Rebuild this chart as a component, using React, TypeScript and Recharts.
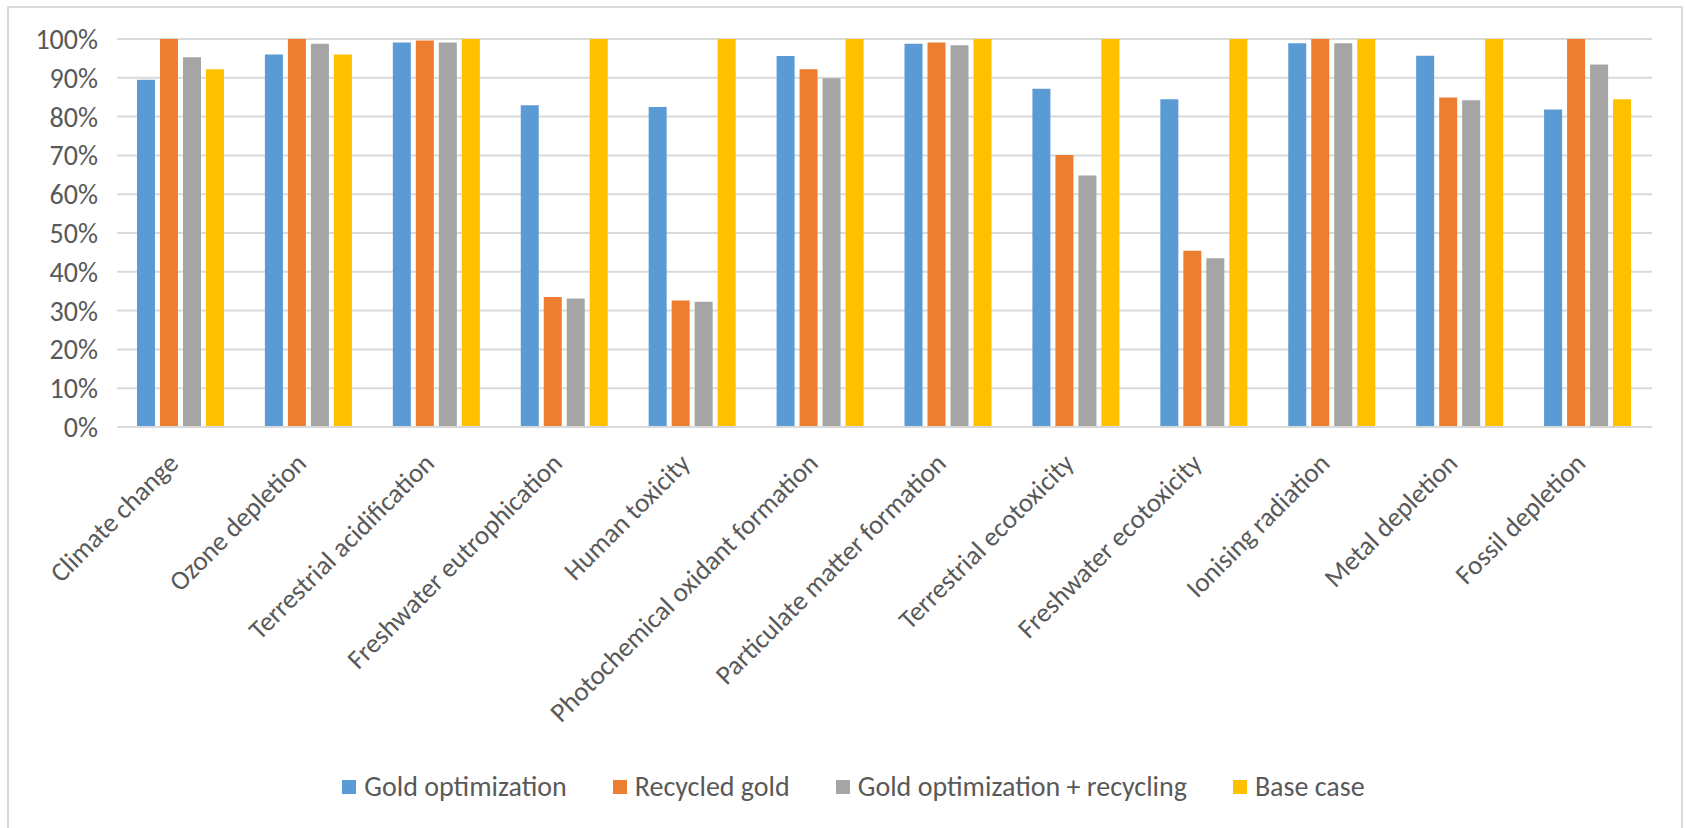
import React from "react";
import { BarChart, Bar, XAxis, YAxis, CartesianGrid, Legend } from "recharts";

const categories = [
  "Climate change",
  "Ozone depletion",
  "Terrestrial acidification",
  "Freshwater eutrophication",
  "Human toxicity",
  "Photochemical oxidant formation",
  "Particulate matter formation",
  "Terrestrial ecotoxicity",
  "Freshwater ecotoxicity",
  "Ionising radiation",
  "Metal depletion",
  "Fossil depletion",
];

const goldOptimization = [89.5, 96.0, 99.1, 82.9, 82.5, 95.6, 98.8, 87.2, 84.5, 98.9, 95.7, 81.8];
const recycledGold = [100, 100, 99.6, 33.5, 32.6, 92.2, 99.1, 70.1, 45.4, 100, 84.9, 100];
const goldOptRecycling = [95.3, 98.8, 99.1, 33.1, 32.3, 89.9, 98.4, 64.8, 43.5, 98.9, 84.2, 93.4];
const baseCase = [92.2, 96.0, 100, 100, 100, 100, 100, 100, 100, 100, 100, 84.5];

const yTicks = [0, 10, 20, 30, 40, 50, 60, 70, 80, 90, 100];

const SERIES = [
  { key: "goldOpt", name: "Gold optimization", color: "#5B9BD5" },
  { key: "recycled", name: "Recycled gold", color: "#ED7D31" },
  { key: "goldOptRec", name: "Gold optimization + recycling", color: "#A5A5A5" },
  { key: "base", name: "Base case", color: "#FFC000" },
];

const data = categories.map((name, i) => ({
  name,
  goldOpt: goldOptimization[i],
  recycled: recycledGold[i],
  goldOptRec: goldOptRecycling[i],
  base: baseCase[i],
}));

const FONT = "Carlito, Calibri, Lato, sans-serif";
const TEXT = "#595959";

function CategoryTick({ x, y, payload }: { x?: number; y?: number; payload?: { value: string } }) {
  const bx = (x ?? 0) - 1;
  const by = (y ?? 0) + 30;
  return (
    <text
      x={bx}
      y={by}
      transform={`rotate(-45, ${bx}, ${by})`}
      textAnchor="end"
      fill={TEXT}
      fontSize={27}
      fontFamily={FONT}
    >
      {payload?.value}
    </text>
  );
}

function LegendContent() {
  return (
    <div
      style={{
        display: "flex",
        justifyContent: "center",
        gap: "46px",
        paddingLeft: "38px",
        fontFamily: FONT,
        fontSize: "28px",
        color: TEXT,
        lineHeight: "40px",
      }}
    >
      {SERIES.map((s) => (
        <div key={s.key} style={{ display: "flex", alignItems: "center", gap: "8px" }}>
          <span style={{ width: 14, height: 14, background: s.color, display: "inline-block" }} />
          <span>{s.name}</span>
        </div>
      ))}
    </div>
  );
}

export default function App() {
  return (
    <div
      style={{
        position: "absolute",
        left: 0,
        top: 0,
        width: 1686,
        height: 828,
        background: "#ffffff",
      }}
    >
      <div
        style={{
          position: "absolute",
          left: 7,
          top: 6,
          width: 1676,
          height: 840,
          border: "2px solid #d9d9d9",
          boxSizing: "border-box",
        }}
      />
      <BarChart
        width={1686}
        height={828}
        data={data}
        margin={{ top: 39, right: 34, left: 17, bottom: 21 }}
        barCategoryGap={20}
        barGap={5}
        style={{ position: "absolute", left: 0, top: 0 }}
      >
        <CartesianGrid vertical={false} stroke="#d9d9d9" strokeWidth={2} />
        <XAxis
          dataKey="name"
          interval={0}
          height={340}
          tick={<CategoryTick />}
          tickLine={false}
          axisLine={{ stroke: "#d9d9d9", strokeWidth: 2 }}
        />
        <YAxis
          width={100}
          domain={[0, 100]}
          ticks={yTicks}
          tickFormatter={(v) => `${v}%`}
          axisLine={false}
          tickLine={false}
          tick={{ fill: TEXT, fontSize: 28, fontFamily: FONT }}
          tickMargin={13}
        />
        <Legend verticalAlign="bottom" height={40} content={<LegendContent />} />
        {SERIES.map((s) => (
          <Bar
            key={s.key}
            dataKey={s.key}
            name={s.name}
            fill={s.color}
            isAnimationActive={false}
          />
        ))}
      </BarChart>
    </div>
  );
}
